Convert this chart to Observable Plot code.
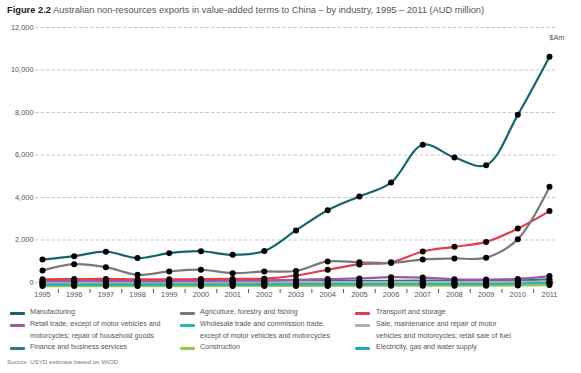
<!DOCTYPE html>
<html><head><meta charset="utf-8">
<script src="https://cdn.jsdelivr.net/npm/d3@7"></script>
<script src="https://cdn.jsdelivr.net/npm/@observablehq/plot@0.6"></script>
<style>
body{margin:0;background:#fff;font-family:"Liberation Sans",Arial,sans-serif;width:581px;height:373px;position:relative;overflow:hidden}
#title{position:absolute;left:7px;top:5px;font-size:9.3px;color:#555;white-space:nowrap}
#title b{color:#222}
#chart{position:absolute;left:0;top:20px}
#legend{position:absolute;left:0;top:307px;width:581px;height:50px}
.item{position:absolute;font-size:7.1px;color:#555;line-height:11.5px}
.sw{position:absolute;width:15px;height:3px;border-radius:1px}
#source{position:absolute;left:7px;top:358px;font-size:6.2px;color:#777}
</style></head><body>
<div id="title"><b>Figure 2.2</b> Australian non-resources exports in value-added terms to China – by industry, 1995 – 2011 (AUD million)</div>
<div id="chart"></div>
<div id="legend"></div>
<div id="source">Source: USYD estimate based on WIOD</div>
<script>
const years = [1995,1996,1997,1998,1999,2000,2001,2002,2003,2004,2005,2006,2007,2008,2009,2010,2011];
const seriesNames = [
  "Manufacturing",
  "Agriculture, forestry and fishing",
  "Transport and storage",
  "Retail trade, except of motor vehicles and motorcycles; repair of household goods",
  "Wholesale trade and commission trade, except of motor vehicles and motorcycles",
  "Sale, maintenance and repair of motor vehicles and motorcycles; retail sale of fuel",
  "Finance and business services",
  "Construction",
  "Electricity, gas and water supply"
];
const legendLines = [
  ["Manufacturing"],
  ["Agriculture, forestry and fishing"],
  ["Transport and storage"],
  ["Retail trade, except of motor vehicles and","motorcycles; repair of household goods"],
  ["Wholesale trade and commission trade,","except of motor vehicles and motorcycles"],
  ["Sale, maintenance and repair of motor","vehicles and motorcycles; retail sale of fuel"],
  ["Finance and business services"],
  ["Construction"],
  ["Electricity, gas and water supply"]
];
const colors = ["#17646d","#787878","#e0404e","#9a5aa8","#2bb3ae","#b0b0b0","#2a7880","#9cc653","#2aa0c4"];
const manufacturing = [1080,1240,1450,1150,1380,1470,1300,1480,2450,3400,4050,4700,6480,5880,5520,7890,10620];
const agriculture   = [560,860,720,360,520,600,440,520,540,990,950,920,1080,1130,1170,2040,4500];
const transport     = [150,160,170,150,150,160,170,180,330,600,850,950,1460,1680,1910,2540,3360];
const retail        = [70,80,80,70,70,80,90,100,120,160,190,250,230,150,140,170,300];
const wholesale     = [-110,-110,-110,-110,-100,-100,-100,-100,-90,-90,-90,-80,-80,-80,-80,-60,-20];
const sale          = [10,10,10,10,10,10,10,10,20,20,20,20,20,20,20,30,40];
const finance       = [20,30,30,20,30,30,30,40,50,60,70,80,90,80,80,100,150];
const construction  = [-170,-170,-170,-170,-170,-170,-160,-160,-160,-160,-150,-150,-150,-150,-150,-140,-120];
const electricity   = [-60,-60,-60,-60,-60,-60,-60,-50,-50,-50,-50,-50,-40,-40,-40,-30,0];
const yTicks = [0,2000,4000,6000,8000,10000,12000];
const unitLabel = "$Am";

const values = [manufacturing,agriculture,transport,retail,wholesale,sale,finance,construction,electricity];
const data = [];
values.forEach((arr,i)=>arr.forEach((v,j)=>data.push({series:seriesNames[i],year:years[j],value:v})));
const drawOrder = [8,7,6,5,4,3,2,1,0].map(i=>seriesNames[i]);
const ordered = drawOrder.flatMap(s=>data.filter(d=>d.series===s));
const halfYears = years.slice(0,-1).map(y=>y+0.5);

const chart = Plot.plot({
  width:581, height:285,
  marginTop:7, marginLeft:42, marginRight:32, marginBottom:16,
  style:{fontFamily:"Liberation Sans, Arial, sans-serif",fontSize:"7.4px",color:"#555",background:"transparent"},
  x:{domain:[1995,2011]},
  y:{domain:[-330,12000]},
  color:{domain:seriesNames,range:colors},
  marks:[
    Plot.ruleY(yTicks,{stroke:"#c8c8c8",strokeDasharray:"3.5,2",strokeWidth:1,insetLeft:-7,insetRight:-6}),
    Plot.axisY({ticks:yTicks,tickSize:0,tickPadding:9,tickFormat:d3.format(","),label:null,fill:"#555"}),
    Plot.axisX({ticks:years,tickSize:0,tickPadding:2,tickFormat:d=>String(d),label:null,fill:"#555"}),
    Plot.axisX({ticks:halfYears,tickSize:4,tickFormat:()=>"",label:null,stroke:"#555"}),
    Plot.line(ordered,{x:"year",y:"value",z:"series",stroke:"series",strokeWidth:2.2,curve:"catmull-rom"}),
    Plot.dot(data,{x:"year",y:"value",r:3,fill:"#000"}),
    Plot.text([unitLabel],{frameAnchor:"top-right",textAnchor:"end",dx:15,dy:7,fill:"#555",fontSize:7.4})
  ]
});
document.getElementById("chart").appendChild(chart);

const cols=[{sw:10,tx:30},{sw:180,tx:200},{sw:355,tx:376}];
const rowsY=[0,12,35];
const leg=document.getElementById("legend");
seriesNames.forEach((s,i)=>{
  const c=cols[i%3], r=rowsY[Math.floor(i/3)];
  const sw=document.createElement("div");sw.className="sw";
  sw.style.left=c.sw+"px";sw.style.top=(r+4.5)+"px";sw.style.background=colors[i];
  const t=document.createElement("div");t.className="item";
  t.style.left=c.tx+"px";t.style.top=r+"px";
  t.innerHTML=legendLines[i].join("<br>");
  leg.appendChild(sw);leg.appendChild(t);
});
</script>
</body></html>
